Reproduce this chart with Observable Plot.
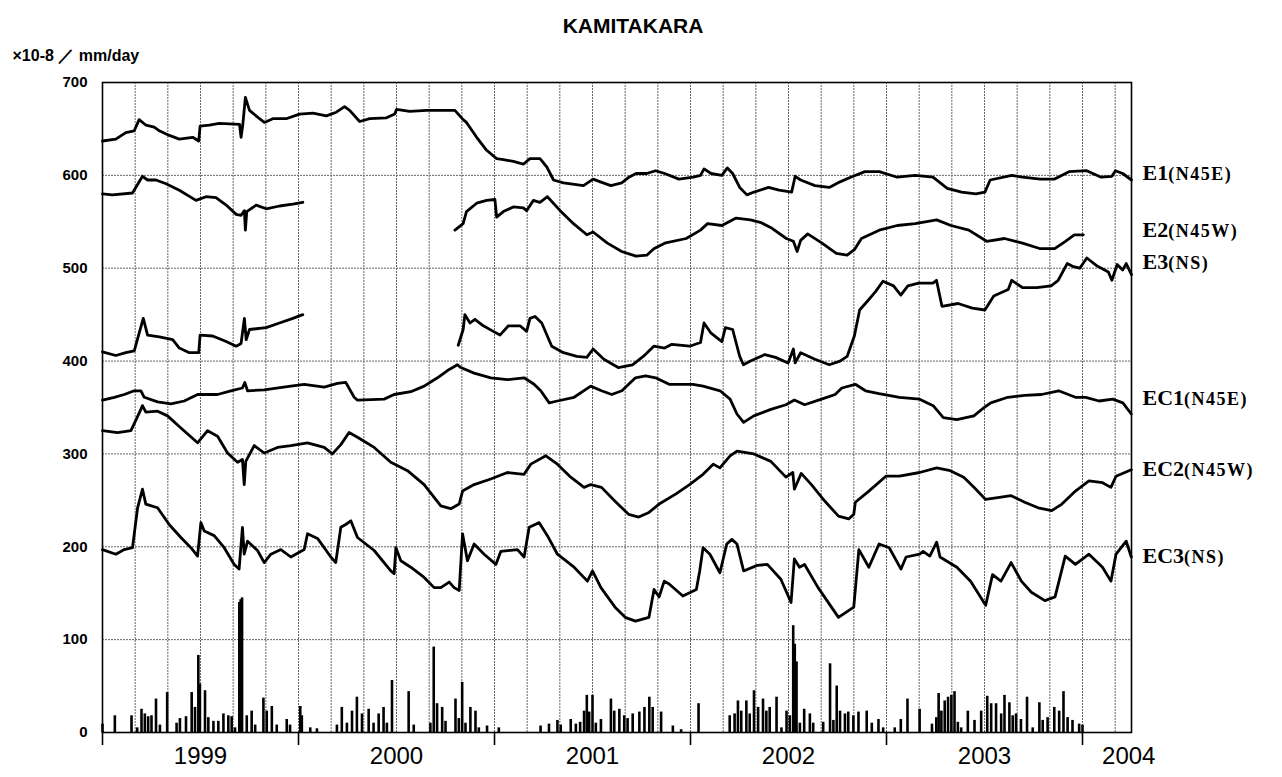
<!DOCTYPE html>
<html><head><meta charset="utf-8">
<script src="https://cdn.jsdelivr.net/npm/d3@7"></script>
<script src="https://cdn.jsdelivr.net/npm/@observablehq/plot@0.6"></script>
<style>body{margin:0;background:#fff;} #chart svg{display:block}</style>
</head><body><div id="chart"></div>
<script>
// ---------- data ----------
const years = [1999, 2000, 2001, 2002, 2003, 2004];
const yearLabelPos = [1999.5, 2000.5, 2001.5, 2002.5, 2003.5, 2004.236];
const yTicks = [0, 100, 200, 300, 400, 500, 600, 700];
const seriesNames = ["E1(N45E)", "E2(N45W)", "E3(NS)", "EC1(N45E)", "EC2(N45W)", "EC3(NS)"];
const seriesLabelY = [602, 541, 506, 360, 283, 189];
const title = "KAMITAKARA";
const unitLabel = "×10-8 ／ mm/day";

const e1 = [[1999.000,637],[1999.068,639],[1999.119,646],[1999.162,648],[1999.187,660],[1999.222,654],[1999.264,652],[1999.290,648],[1999.341,643],[1999.392,639],[1999.460,641],[1999.491,637],[1999.498,653],[1999.545,654],[1999.596,656],[1999.699,655],[1999.707,641],[1999.716,655],[1999.729,684],[1999.750,670],[1999.801,661],[1999.826,657],[1999.869,661],[1999.937,661],[2000.005,666],[2000.074,667],[2000.142,664],[2000.193,668],[2000.235,674],[2000.261,670],[2000.312,658],[2000.363,661],[2000.449,662],[2000.491,666],[2000.500,671],[2000.568,669],[2000.653,670],[2000.798,670],[2000.840,660],[2000.857,657],[2000.909,641],[2000.960,627],[2001.011,618],[2001.045,617],[2001.096,615],[2001.147,612],[2001.181,618],[2001.232,618],[2001.267,609],[2001.301,595],[2001.352,592],[2001.454,589],[2001.503,596],[2001.540,593],[2001.594,589],[2001.649,592],[2001.686,598],[2001.722,602],[2001.777,602],[2001.822,605],[2001.868,602],[2001.941,596],[2002.014,598],[2002.051,600],[2002.069,607],[2002.105,602],[2002.160,600],[2002.188,608],[2002.215,602],[2002.251,587],[2002.288,579],[2002.324,582],[2002.398,587],[2002.452,584],[2002.516,582],[2002.534,599],[2002.562,595],[2002.635,589],[2002.708,587],[2002.763,593],[2002.817,598],[2002.890,604],[2002.963,604],[2003.055,598],[2003.146,600],[2003.237,598],[2003.310,586],[2003.383,582],[2003.456,580],[2003.502,582],[2003.529,595],[2003.639,600],[2003.694,598],[2003.785,596],[2003.858,596],[2003.931,604],[2004.022,605],[2004.095,598],[2004.150,599],[2004.168,605],[2004.205,602],[2004.250,595]];

const e2 = [[1999.000,580],[1999.051,579],[1999.153,581],[1999.204,599],[1999.230,595],[1999.273,595],[1999.324,591],[1999.392,584],[1999.477,573],[1999.528,577],[1999.579,576],[1999.631,568],[1999.682,558],[1999.707,557],[1999.724,562],[1999.729,541],[1999.736,561],[1999.784,568],[1999.835,564],[1999.903,567],[1999.971,569],[2000.022,571],[2000.400,null],[2000.798,541],[2000.840,548],[2000.857,561],[2000.909,570],[2000.960,573],[2001.002,574],[2001.011,555],[2001.045,561],[2001.096,566],[2001.147,565],[2001.164,562],[2001.198,573],[2001.232,571],[2001.270,577],[2001.335,562],[2001.403,548],[2001.471,536],[2001.503,539],[2001.576,527],[2001.649,518],[2001.722,513],[2001.777,514],[2001.813,521],[2001.868,527],[2001.978,532],[2002.051,541],[2002.087,548],[2002.160,546],[2002.233,554],[2002.306,552],[2002.361,549],[2002.416,543],[2002.489,532],[2002.525,529],[2002.544,518],[2002.562,530],[2002.598,537],[2002.671,527],[2002.744,516],[2002.799,514],[2002.836,520],[2002.872,532],[2002.963,541],[2003.055,546],[2003.146,548],[2003.256,552],[2003.329,546],[2003.420,541],[2003.511,529],[2003.602,532],[2003.694,527],[2003.785,521],[2003.858,521],[2003.913,529],[2003.958,536],[2004.004,536]];

const e3 = [[1999.000,410],[1999.068,406],[1999.119,409],[1999.162,411],[1999.187,430],[1999.208,446],[1999.230,428],[1999.290,426],[1999.358,423],[1999.392,414],[1999.443,409],[1999.491,409],[1999.498,428],[1999.562,427],[1999.631,421],[1999.682,416],[1999.707,419],[1999.724,446],[1999.733,423],[1999.750,434],[1999.835,436],[1999.903,441],[1999.971,446],[2000.022,450],[2000.400,null],[2000.815,417],[2000.840,434],[2000.849,450],[2000.875,441],[2000.900,445],[2000.943,438],[2000.994,432],[2001.028,428],[2001.071,438],[2001.130,438],[2001.164,432],[2001.181,446],[2001.207,448],[2001.241,441],[2001.292,416],[2001.352,409],[2001.420,405],[2001.471,404],[2001.503,413],[2001.558,402],[2001.631,393],[2001.704,396],[2001.759,405],[2001.813,416],[2001.868,414],[2001.905,418],[2001.996,416],[2002.051,420],[2002.069,441],[2002.105,430],[2002.160,421],[2002.178,436],[2002.215,434],[2002.251,405],[2002.270,396],[2002.306,400],[2002.379,407],[2002.434,404],[2002.498,398],[2002.525,413],[2002.534,398],[2002.562,409],[2002.635,402],[2002.708,396],[2002.763,400],[2002.799,405],[2002.836,427],[2002.863,455],[2002.909,466],[2002.945,475],[2002.982,486],[2003.036,481],[2003.073,471],[2003.109,481],[2003.164,484],[2003.237,484],[2003.255,487],[2003.283,459],[2003.365,462],[2003.438,457],[2003.502,455],[2003.547,470],[2003.621,477],[2003.639,487],[2003.694,479],[2003.767,479],[2003.840,481],[2003.876,487],[2003.922,505],[2003.949,502],[2003.986,500],[2004.022,511],[2004.077,502],[2004.132,496],[2004.150,487],[2004.177,504],[2004.205,498],[2004.223,505],[2004.250,493]];

const ec1 = [[1999.000,358],[1999.060,361],[1999.111,364],[1999.162,368],[1999.196,368],[1999.213,361],[1999.281,356],[1999.349,354],[1999.417,357],[1999.485,364],[1999.587,364],[1999.655,368],[1999.714,371],[1999.726,377],[1999.740,368],[1999.825,369],[1999.961,373],[2000.029,375],[2000.131,372],[2000.199,376],[2000.241,377],[2000.284,361],[2000.301,358],[2000.437,359],[2000.488,364],[2000.573,367],[2000.641,373],[2000.709,382],[2000.769,391],[2000.811,396],[2000.828,393],[2000.896,387],[2000.981,382],[2001.066,380],[2001.151,382],[2001.202,375],[2001.236,368],[2001.279,355],[2001.321,357],[2001.406,361],[2001.491,373],[2001.546,368],[2001.598,364],[2001.650,368],[2001.719,382],[2001.771,384],[2001.822,382],[2001.891,375],[2001.961,375],[2002.012,375],[2002.064,373],[2002.151,368],[2002.202,359],[2002.237,343],[2002.271,334],[2002.323,341],[2002.410,348],[2002.487,353],[2002.530,358],[2002.582,353],[2002.669,359],[2002.738,364],[2002.772,371],[2002.841,375],[2002.893,368],[2002.962,365],[2003.066,361],[2003.169,359],[2003.238,352],[2003.290,339],[2003.359,337],[2003.446,341],[2003.498,350],[2003.532,355],[2003.619,361],[2003.705,363],[2003.791,364],[2003.878,368],[2003.964,361],[2004.016,361],[2004.085,357],[2004.154,359],[2004.206,355],[2004.249,343]];

const ec2 = [[1999.000,325],[1999.077,323],[1999.145,325],[1999.187,344],[1999.204,352],[1999.221,345],[1999.281,346],[1999.332,341],[1999.400,328],[1999.485,312],[1999.536,325],[1999.587,319],[1999.638,301],[1999.689,291],[1999.714,294],[1999.723,267],[1999.731,292],[1999.774,309],[1999.825,301],[1999.893,307],[1999.961,309],[2000.046,312],[2000.131,307],[2000.173,300],[2000.216,310],[2000.258,323],[2000.301,318],[2000.386,307],[2000.471,291],[2000.556,282],[2000.641,267],[2000.726,244],[2000.777,241],[2000.820,246],[2000.837,260],[2000.896,267],[2000.981,273],[2001.066,280],[2001.151,278],[2001.185,289],[2001.262,298],[2001.321,289],[2001.389,275],[2001.457,264],[2001.491,267],[2001.546,264],[2001.615,249],[2001.684,235],[2001.736,232],[2001.788,237],[2001.840,246],[2001.926,257],[2001.995,267],[2002.064,278],[2002.116,289],[2002.150,285],[2002.202,298],[2002.237,303],[2002.323,300],[2002.410,292],[2002.487,275],[2002.522,280],[2002.530,262],[2002.565,279],[2002.617,267],[2002.686,249],[2002.755,233],[2002.807,230],[2002.833,235],[2002.841,248],[2002.910,260],[2002.997,276],[2003.066,276],[2003.169,280],[2003.256,285],[2003.325,282],[2003.394,275],[2003.446,264],[2003.506,251],[2003.567,253],[2003.636,255],[2003.705,248],[2003.774,242],[2003.843,239],[2003.895,246],[2003.964,260],[2004.033,271],[2004.102,269],[2004.145,264],[2004.171,276],[2004.249,283]];

const ec3 = [[1999.000,197],[1999.068,192],[1999.111,197],[1999.153,199],[1999.179,242],[1999.204,262],[1999.221,246],[1999.281,242],[1999.340,224],[1999.400,210],[1999.451,199],[1999.485,190],[1999.502,226],[1999.519,217],[1999.570,212],[1999.621,199],[1999.672,181],[1999.697,176],[1999.714,221],[1999.723,192],[1999.740,206],[1999.791,196],[1999.825,183],[1999.859,192],[1999.910,197],[1999.961,189],[2000.029,197],[2000.046,214],[2000.097,209],[2000.165,189],[2000.190,183],[2000.216,221],[2000.241,224],[2000.267,228],[2000.301,210],[2000.386,196],[2000.471,174],[2000.488,171],[2000.497,199],[2000.522,185],[2000.573,178],[2000.641,167],[2000.692,156],[2000.726,156],[2000.769,162],[2000.794,156],[2000.820,153],[2000.837,214],[2000.862,185],[2000.896,203],[2000.947,192],[2001.007,181],[2001.032,195],[2001.117,197],[2001.151,189],[2001.177,221],[2001.228,226],[2001.270,212],[2001.321,192],[2001.406,178],[2001.474,163],[2001.500,174],[2001.543,156],[2001.615,135],[2001.667,124],[2001.719,120],[2001.788,124],[2001.814,154],[2001.840,146],[2001.866,163],[2001.891,160],[2001.961,147],[2002.030,154],[2002.047,174],[2002.064,199],[2002.099,192],[2002.150,172],[2002.185,203],[2002.211,208],[2002.237,203],[2002.271,174],[2002.340,180],[2002.392,181],[2002.461,165],[2002.513,140],[2002.530,187],[2002.556,178],[2002.582,181],[2002.651,156],[2002.755,124],[2002.833,135],[2002.859,197],[2002.910,178],[2002.962,203],[2003.014,199],[2003.074,176],[2003.100,189],[2003.169,192],[2003.187,195],[2003.221,190],[2003.256,205],[2003.273,189],[2003.359,178],[2003.429,163],[2003.506,137],[2003.541,170],[2003.584,163],[2003.636,183],[2003.688,163],[2003.739,151],[2003.808,142],[2003.860,146],[2003.912,190],[2003.964,181],[2004.033,192],[2004.102,178],[2004.145,163],[2004.171,192],[2004.223,206],[2004.249,189]];

const rain = [[1999.000,9],[1999.063,18],[1999.148,18],[1999.177,5],[1999.199,25],[1999.216,20],[1999.233,17],[1999.250,18],[1999.273,36],[1999.293,8],[1999.330,43],[1999.378,10],[1999.395,15],[1999.426,17],[1999.455,43],[1999.472,27],[1999.489,83],[1999.497,52],[1999.523,45],[1999.540,16],[1999.566,12],[1999.591,12],[1999.617,20],[1999.642,18],[1999.659,17],[1999.676,5],[1999.698,140],[1999.705,143],[1999.712,145],[1999.736,18],[1999.761,23],[1999.779,8],[1999.821,37],[1999.838,23],[1999.864,28],[1999.889,8],[1999.940,14],[1999.957,8],[2000.009,28],[2000.017,18],[2000.060,5],[2000.094,4],[2000.196,8],[2000.221,27],[2000.247,10],[2000.273,23],[2000.298,38],[2000.324,20],[2000.358,25],[2000.383,10],[2000.409,20],[2000.434,27],[2000.451,10],[2000.477,56],[2000.562,44],[2000.588,8],[2000.673,10],[2000.690,92],[2000.707,31],[2000.733,27],[2000.750,12],[2000.801,36],[2000.818,15],[2000.835,54],[2000.852,10],[2000.877,27],[2000.903,23],[2000.920,5],[2000.962,7],[2001.022,5],[2001.235,7],[2001.278,9],[2001.321,13],[2001.338,8],[2001.389,14],[2001.415,9],[2001.437,11],[2001.457,23],[2001.471,40],[2001.483,22],[2001.500,40],[2001.517,10],[2001.543,14],[2001.594,36],[2001.611,23],[2001.637,25],[2001.662,18],[2001.679,15],[2001.705,20],[2001.739,22],[2001.765,27],[2001.790,38],[2001.807,27],[2001.850,22],[2001.910,7],[2001.952,3],[2002.041,31],[2002.200,18],[2002.225,20],[2002.242,34],[2002.259,23],[2002.285,34],[2002.302,20],[2002.324,45],[2002.345,27],[2002.370,36],[2002.387,23],[2002.404,27],[2002.439,38],[2002.464,5],[2002.490,23],[2002.507,18],[2002.524,115],[2002.532,95],[2002.541,76],[2002.558,10],[2002.580,25],[2002.609,20],[2002.626,10],[2002.677,11],[2002.712,74],[2002.729,13],[2002.746,50],[2002.763,23],[2002.788,20],[2002.805,22],[2002.831,18],[2002.857,22],[2002.899,23],[2002.925,10],[2002.959,14],[2002.983,5],[2003.042,5],[2003.073,14],[2003.107,36],[2003.169,25],[2003.232,9],[2003.254,16],[2003.266,42],[2003.280,23],[2003.297,34],[2003.314,38],[2003.331,40],[2003.347,44],[2003.364,11],[2003.381,5],[2003.415,23],[2003.449,13],[2003.483,23],[2003.514,39],[2003.534,31],[2003.559,31],[2003.585,20],[2003.602,40],[2003.627,32],[2003.644,18],[2003.661,20],[2003.686,14],[2003.717,38],[2003.746,5],[2003.780,32],[2003.797,13],[2003.822,16],[2003.856,27],[2003.881,23],[2003.903,44],[2003.924,16],[2003.949,13],[2003.983,9],[2004.000,8]];

// ---------- tables ----------
const seriesArrays = [e1, e2, e3, ec1, ec2, ec3];
const lineRows = seriesArrays.flatMap((arr, i) => arr.map(([t, v]) => ({t, v, s: seriesNames[i]})));
const rainRows = rain.map(([t, v]) => ({t, v}));
const labelRows = seriesNames.map((name, i) => ({name, y: seriesLabelY[i]}));
const xEnd = 2004.25;
const gridX = d3.range(0, 32).map(k => 1999 + k / 6);

const plot = Plot.plot({
  width: 1282,
  height: 777,
  marginLeft: 102,
  marginRight: 151,
  marginTop: 82,
  marginBottom: 45,
  style: {background: "#fff", fontFamily: "'Liberation Sans', Arial, sans-serif", color: "#000"},
  x: {domain: [1999, xEnd], axis: null},
  y: {domain: [0, 700], axis: null},
  marks: [
    Plot.gridX(gridX, {stroke: "#666", strokeOpacity: 1, strokeWidth: 1, strokeDasharray: "2,1"}),
    Plot.gridY(yTicks, {stroke: "#666", strokeOpacity: 1, strokeWidth: 1, strokeDasharray: "2,1"}),
    Plot.ruleX(rainRows, {x: "t", y1: 0, y2: "v", stroke: "#000", strokeWidth: 2.6}),
    Plot.line(lineRows, {x: "t", y: "v", z: "s", stroke: "#000", strokeWidth: 2.8, strokeLinejoin: "round"}),
    Plot.frame({stroke: "#000", strokeWidth: 1.6}),
    Plot.axisY(yTicks, {tickSize: 0, tickPadding: 15, fontSize: 15, fontWeight: "bold", tickFormat: d => d, label: null}),
    Plot.axisX(years, {tickSize: 13, tickFormat: () => "", label: null, stroke: "#000", strokeWidth: 1.6}),
    Plot.axisX(yearLabelPos, {tickSize: 0, tickPadding: 14, fontSize: 24, tickFormat: d => String(Math.floor(d)), label: null}),
    Plot.text(labelRows, {x: () => xEnd, y: "y", text: "name", textAnchor: "start", dx: 11, fontFamily: "'Liberation Serif', serif", fontWeight: "bold", fontSize: 20}),
    Plot.text([title], {frameAnchor: "top", dy: -64, dx: 16, fontSize: 21, fontWeight: "bold"}),
    Plot.text([unitLabel], {frameAnchor: "top-left", dx: -90, dy: -33, textAnchor: "start", fontSize: 16, fontWeight: "bold"})
  ]
});

// split series labels into large code + smaller direction part
const ns = "http://www.w3.org/2000/svg";
plot.querySelectorAll("text").forEach(t => {
  const s = t.textContent;
  if (!seriesNames.includes(s)) return;
  const i = s.indexOf("(");
  t.textContent = "";
  const a = document.createElementNS(ns, "tspan");
  a.textContent = s.slice(0, i);
  a.setAttribute("font-size", "22");
  const b = document.createElementNS(ns, "tspan");
  b.textContent = s.slice(i);
  b.setAttribute("font-size", "18");
  b.setAttribute("letter-spacing", "1.5");
  t.append(a, b);
});

document.getElementById("chart").append(plot);
</script>
</body></html>
